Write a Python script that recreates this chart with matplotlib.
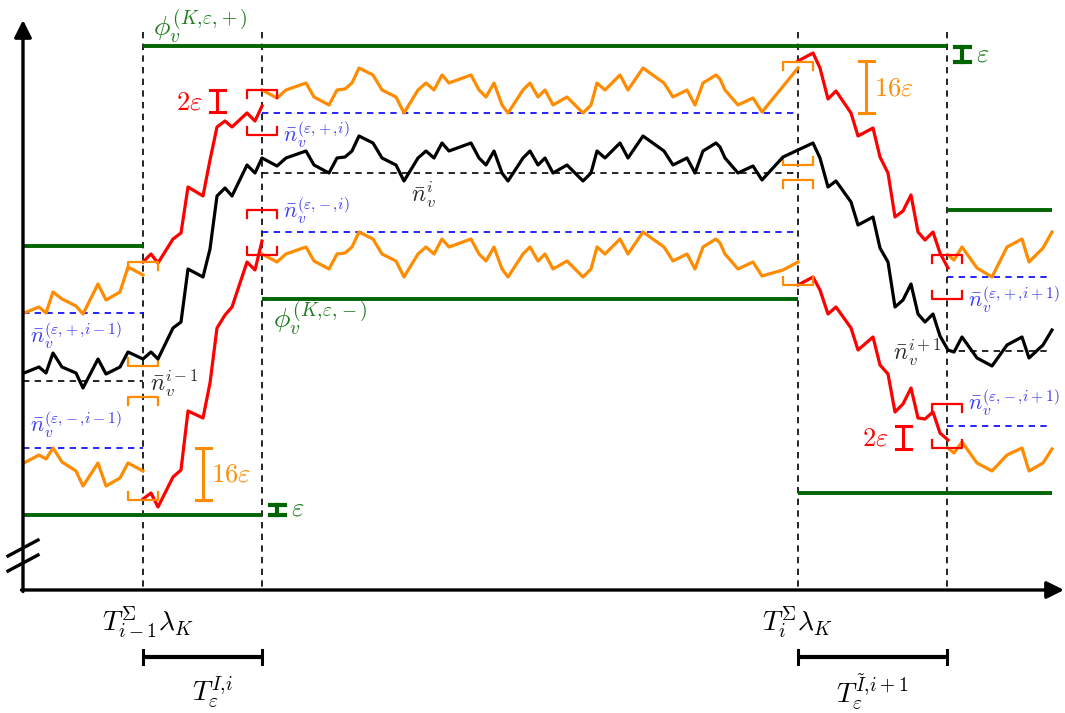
import numpy as np
import matplotlib.pyplot as plt

plt.rcParams['mathtext.fontset'] = 'cm'

GREEN = '#006400'
ORANGE = '#FF8C00'
RED = '#FF0000'
BLUE = '#0000FF'
TXT_GREEN = '#1E7B1E'
TXT_BLUE = '#3A3AF5'
TXT_DARK = '#2A2A2A'

# frame of the sketch (plot units)
y_axis_x = 23
x_axis_y = 590
t_marks = [143, 262, 798, 947]
x_end = 1052

# ---- mean path n_v (black) ----
left_x = [24, 39, 46, 53, 62, 76, 83, 98, 106, 120, 128, 143]
left_y = [373, 367, 373, 353, 367, 373, 388, 359, 374, 367, 352, 359]

rise_x = [143, 151, 158, 173, 181, 188, 203, 210, 217, 225, 232, 247, 255, 262]
rise_y = [358, 352, 359, 328, 322, 269, 277, 249, 196, 188, 196, 165, 173, 158]

mid_x = [262, 277, 286, 306, 314, 329, 337, 345, 352, 359, 373, 382, 396, 404,
         418, 426, 434, 442, 449, 471, 479, 486, 494, 502, 508, 523, 530, 538,
         545, 553, 567, 583, 591, 597, 605, 620, 628, 643, 664, 673, 687, 695,
         703, 716, 720, 725, 738, 753, 762]
mid_y = [158, 166, 158, 151, 165, 173, 158, 157, 151, 136, 143, 158, 165, 181,
         158, 151, 158, 143, 151, 143, 158, 165, 151, 173, 181, 158, 151, 165,
         158, 173, 165, 181, 173, 151, 158, 143, 158, 136, 151, 165, 158, 173,
         151, 143, 147, 158, 173, 166, 180]

tail_x = [762, 783, 798]
tail_y = [180, 157, 150]

fall_x = [798, 813, 820, 828, 836, 851, 858, 873, 880, 888, 895, 903, 911, 918,
          925, 933, 940, 948]
fall_y = [150, 143, 158, 187, 181, 202, 225, 217, 248, 262, 307, 300, 284, 314,
          322, 314, 336, 350]

right_x = [948, 954, 962, 977, 992, 1007, 1022, 1029, 1043, 1052]
right_y = [350, 352, 337, 358, 366, 345, 337, 358, 345, 330]

# ---- envelope paths (orange) ----
orange_hi_left = [313, 307, 313, 292, 299, 306, 314, 284, 300, 292, 267, 275]
orange_lo_left = [463, 455, 459, 448, 462, 471, 486, 463, 486, 478, 463, 471]
orange_hi_shift = -68   # plateau copy above the mean path
orange_lo_shift = 96    # plateau copy below the mean path
orange_hi_tail_x = [762, 798]
orange_hi_tail_y = [106, 68]
orange_lo_tail_x = [762, 783, 798]
orange_lo_tail_y = [285, 270, 262]
orange_hi_right = [255, 260, 247, 268, 277, 247, 239, 262, 248, 232]
orange_lo_right = [448, 453, 442, 463, 471, 455, 448, 471, 463, 449]

# ---- transition paths (red) ----
red_hi_rise = [262, 254, 263, 239, 233, 187, 196, 160, 127, 121, 127, 113, 121, 106]
red_lo_rise = [499, 493, 507, 477, 470, 411, 418, 383, 328, 315, 307, 262, 270, 241]
red_hi_fall = [61, 53, 68, 99, 91, 113, 136, 128, 157, 173, 217, 211, 195, 232,
               240, 232, 253, 268]
red_lo_fall = [285, 277, 290, 314, 307, 328, 350, 337, 365, 374, 412, 404, 388, 418,
               419, 412, 433, 440]

# ---- horizontal levels: (x_start, x_end, level) ----
phi_levels = [(23, 143, 246), (143, 947, 46), (23, 262, 515),
              (262, 798, 299), (798, 1052, 493), (947, 1052, 210)]
mean_levels = [(23, 143, 381), (262, 795, 173), (947, 1052, 351)]
band_levels = [(23, 143, 313), (23, 143, 448), (262, 795, 113),
               (262, 795, 232), (947, 1052, 277), (947, 1052, 426)]

# ---- bracket marks: (x_center, level, tick direction) ----
red_brackets = [(262, 90, 1), (262, 135, -1), (262, 210, 1), (262, 255, -1),
                (947, 255, 1), (947, 299, -1), (947, 404, 1), (947, 448, -1)]
orange_brackets = [(143, 262, 1), (143, 366, -1), (143, 397, 1), (143, 500, -1),
                   (798, 62, 1), (798, 165, -1), (798, 180, 1), (798, 285, -1)]

# ---- size markers: (x, from, to, colour, lw) ----
size_marks = [(217, 90, 112, RED, 2.2), (203, 448, 500, ORANGE, 2.2),
              (277, 505, 515, GREEN, 3.0), (866, 61, 113, ORANGE, 2.2),
              (962, 47, 62, GREEN, 3.0), (903, 426, 449, RED, 2.2)]

fig = plt.figure(figsize=(10.65, 7.13), dpi=100)
ax = fig.add_axes([0, 0, 1, 1])
ax.set_xlim(0, 1065)
ax.set_ylim(713, 0)
ax.axis('off')

dash = (0, (3.8, 3.2))

# vertical time markers
for t in t_marks:
    ax.plot([t, t], [32, x_axis_y], color='k', lw=1.2, ls=dash, zorder=1)

# dashed levels
for x0, x1, y in mean_levels:
    ax.plot([x0, x1], [y, y], color='k', lw=1.2, ls=dash, zorder=1)
for x0, x1, y in band_levels:
    ax.plot([x0, x1], [y, y], color=BLUE, lw=1.2, ls=dash, zorder=1)

# phi levels
for x0, x1, y in phi_levels:
    ax.plot([x0, x1], [y, y], color=GREEN, lw=2.8, solid_capstyle='butt', zorder=2)

lw = 2.3
mid_x_a = np.array(mid_x)
mid_y_a = np.array(mid_y)

# orange envelopes
ax.plot(left_x, orange_hi_left, color=ORANGE, lw=lw, zorder=3)
ax.plot(left_x, orange_lo_left, color=ORANGE, lw=lw, zorder=3)
ax.plot(list(mid_x_a) + orange_hi_tail_x[1:],
        list(mid_y_a + orange_hi_shift) + orange_hi_tail_y[1:], color=ORANGE, lw=lw, zorder=3)
ax.plot(list(mid_x_a) + orange_lo_tail_x[1:],
        list(mid_y_a + orange_lo_shift) + orange_lo_tail_y[1:], color=ORANGE, lw=lw, zorder=3)
ax.plot(right_x, orange_hi_right, color=ORANGE, lw=lw, zorder=3)
ax.plot(right_x, orange_lo_right, color=ORANGE, lw=lw, zorder=3)

# red transitions
ax.plot(rise_x, red_hi_rise, color=RED, lw=lw, zorder=4)
ax.plot(rise_x, red_lo_rise, color=RED, lw=lw, zorder=4)
ax.plot(fall_x, red_hi_fall, color=RED, lw=lw, zorder=4)
ax.plot(fall_x, red_lo_fall, color=RED, lw=lw, zorder=4)

# black mean path
bx = left_x + rise_x[1:] + mid_x[1:] + tail_x[1:] + fall_x[1:] + right_x[1:]
by = left_y + rise_y[1:] + mid_y[1:] + tail_y[1:] + fall_y[1:] + right_y[1:]
ax.plot(bx, by, color='k', lw=lw, zorder=5)

# brackets
def bracket(xc, y, d, color):
    ax.plot([xc - 15, xc - 15, xc + 15, xc + 15], [y + 8 * d, y, y, y + 8 * d],
            color=color, lw=1.6, zorder=4)

for xc, y, d in red_brackets:
    bracket(xc, y, d, RED)
for xc, y, d in orange_brackets:
    bracket(xc, y, d, ORANGE)

# size markers
for x, y0, y1, c, w in size_marks:
    ax.plot([x, x], [y0, y1], color=c, lw=w, zorder=4)
    for yy in (y0, y1):
        ax.plot([x - 7.5, x + 7.5], [yy, yy], color=c, lw=w, zorder=4)

# axes with arrows
arrow = dict(arrowstyle='-|>', lw=2.4, color='k', mutation_scale=26, shrinkA=0, shrinkB=0)
ax.annotate('', xy=(y_axis_x, 20), xytext=(y_axis_x, x_axis_y + 1.5),
            arrowprops=arrow, annotation_clip=False, zorder=6)
ax.annotate('', xy=(1064, x_axis_y), xytext=(y_axis_x - 1.5, x_axis_y),
            arrowprops=arrow, annotation_clip=False, zorder=6)
# axis break
for yb in (556, 571):
    ax.plot([8, 38], [yb, yb - 16], color='k', lw=2.4, zorder=6)

# bars for T_eps
for x0, x1 in [(t_marks[0], t_marks[1]), (t_marks[2], t_marks[3])]:
    ax.plot([x0, x1], [657, 657], color='k', lw=3.0, solid_capstyle='butt')
    for xx in (x0, x1):
        ax.plot([xx, xx], [650, 664], color='k', lw=2.2)

# labels
fs = 20
ax.text(153, 8, r'$\phi_v^{(K,\!\varepsilon,\!+)}$', color=TXT_GREEN, fontsize=fs, ha='left', va='top')
ax.text(273, 300, r'$\phi_v^{(K,\!\varepsilon,\!-)}$', color=TXT_GREEN, fontsize=fs, ha='left', va='top')

fsn = 16
ax.text(283, 135, r'$\bar{n}_v^{(\varepsilon,\!+,\!i)}$', color=TXT_BLUE, fontsize=fsn, ha='left', va='center')
ax.text(283, 211, r'$\bar{n}_v^{(\varepsilon,\!-,\!i)}$', color=TXT_BLUE, fontsize=fsn, ha='left', va='center')
ax.text(30, 336, r'$\bar{n}_v^{(\varepsilon,\!+,\!i-1)}$', color=TXT_BLUE, fontsize=fsn, ha='left', va='center')
ax.text(30, 425, r'$\bar{n}_v^{(\varepsilon,\!-,\!i-1)}$', color=TXT_BLUE, fontsize=fsn, ha='left', va='center')
ax.text(968, 300, r'$\bar{n}_v^{(\varepsilon,\!+,\!i+1)}$', color=TXT_BLUE, fontsize=fsn, ha='left', va='center')
ax.text(968, 403, r'$\bar{n}_v^{(\varepsilon,\!-,\!i+1)}$', color=TXT_BLUE, fontsize=fsn, ha='left', va='center')

ax.text(411, 195, r'$\bar{n}_v^{i}$', color=TXT_DARK, fontsize=17, ha='left', va='center')
ax.text(150, 383, r'$\bar{n}_v^{i-1}$', color=TXT_DARK, fontsize=17, ha='left', va='center')
ax.text(893, 352, r'$\bar{n}_v^{i+1}$', color=TXT_DARK, fontsize=17, ha='left', va='center')

fse = 19
ax.text(203, 103, r'$2\varepsilon$', color=RED, fontsize=fse, ha='right', va='center')
ax.text(889, 438, r'$2\varepsilon$', color=RED, fontsize=fse, ha='right', va='center')
ax.text(211, 475, r'$16\varepsilon$', color=ORANGE, fontsize=fse, ha='left', va='center')
ax.text(874, 88, r'$16\varepsilon$', color=ORANGE, fontsize=fse, ha='left', va='center')
ax.text(291, 509, r'$\varepsilon$', color=TXT_GREEN, fontsize=fse, ha='left', va='center')
ax.text(976, 54, r'$\varepsilon$', color=TXT_GREEN, fontsize=fse, ha='left', va='center')

ax.text(148, 622, r'$T^{\Sigma}_{i-1}\lambda_K$', color='k', fontsize=fs, ha='center', va='center')
ax.text(797, 622, r'$T^{\Sigma}_{i}\lambda_K$', color='k', fontsize=fs, ha='center', va='center')
ax.text(213, 692, r'$T_{\varepsilon}^{I,\!i}$', color='k', fontsize=fs, ha='center', va='center')
ax.text(872, 692, r'$T_{\varepsilon}^{\tilde{I},\!i+1}$', color='k', fontsize=fs, ha='center', va='center')

fig.savefig('out.png', dpi=100)
